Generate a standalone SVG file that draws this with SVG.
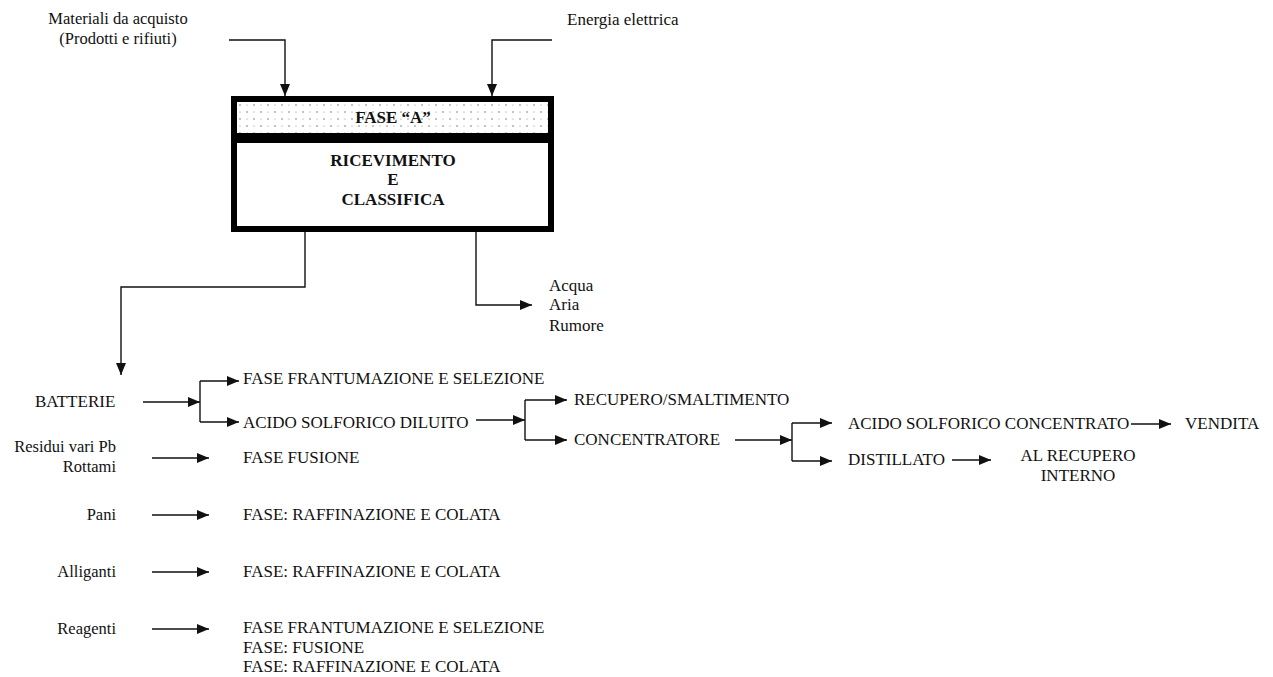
<svg xmlns="http://www.w3.org/2000/svg" width="1273" height="677" viewBox="0 0 1273 677" font-family="'Liberation Serif', 'DejaVu Serif', serif">
  <defs>
    <style>
      text { font-family: 'Liberation Serif', 'Times New Roman', Times, 'DejaVu Serif', serif; font-size: 17px; fill: #111; }
      .s { font-size: 16.5px; }
      .b { font-weight: bold; }
      .m { text-anchor: middle; }
      .r { text-anchor: end; }
      .ln { fill: none; stroke: #111; stroke-width: 1.4; }
      .ar { fill: none; stroke: #111; stroke-width: 1.4; marker-end: url(#head); }
    </style>
    <marker id="head" viewBox="0 0 12 10" refX="12" refY="5" markerWidth="12" markerHeight="10" markerUnits="userSpaceOnUse" orient="auto">
      <path d="M0,0 L12,5 L0,10 Z" fill="#111"/>
    </marker>
    <pattern id="dots" x="237" y="102" width="14" height="14" patternUnits="userSpaceOnUse">
      <circle cx="3" cy="3" r="0.7" fill="#555"/>
      <circle cx="10" cy="10" r="0.7" fill="#555"/>
      <circle cx="10" cy="3" r="0.6" fill="#888"/>
      <circle cx="3" cy="10" r="0.6" fill="#888"/>
    </pattern>
  </defs>
  <rect width="1273" height="677" fill="#fff"/>

  <!-- central phase box -->
  <g id="fase-a">
    <rect x="234" y="99" width="317" height="130" fill="#fff" stroke="#000" stroke-width="6"/>
    <rect x="237" y="102" width="311" height="31" fill="url(#dots)"/>
    <rect x="231" y="133" width="323" height="10" fill="#000"/>
    <text class="b m" x="393" y="123">FASE “A”</text>
    <text class="b m" x="393" y="166">RICEVIMENTO</text>
    <text class="b m" x="393" y="185">E</text>
    <text class="b m" x="393" y="205">CLASSIFICA</text>
  </g>

  <!-- inputs to the box -->
  <g id="input-materiali">
    <text class="s m" x="118" y="24">Materiali da acquisto</text>
    <text class="s m" x="118" y="44">(Prodotti e rifiuti)</text>
  </g>
  <g id="input-energia">
    <text x="567" y="25">Energia elettrica</text>
  </g>

  <!-- outputs -->
  <g id="emissioni">
    <text x="549" y="291">Acqua</text>
    <text x="549" y="310">Aria</text>
    <text x="549" y="331">Rumore</text>
  </g>

  <g id="batterie">
    <text x="35" y="407">BATTERIE</text>
  </g>
  <g id="batterie-out">
    <text x="243" y="384">FASE FRANTUMAZIONE E SELEZIONE</text>
    <text x="243" y="428">ACIDO SOLFORICO DILUITO</text>
  </g>
  <g id="acido-out">
    <text x="574" y="405">RECUPERO/SMALTIMENTO</text>
    <text x="574" y="445">CONCENTRATORE</text>
  </g>
  <g id="concentratore-out">
    <text x="848" y="429">ACIDO SOLFORICO CONCENTRATO</text>
    <text x="848" y="465">DISTILLATO</text>
  </g>
  <g id="vendita">
    <text x="1185" y="429">VENDITA</text>
  </g>
  <g id="recupero-interno">
    <text class="m" x="1078" y="461">AL RECUPERO</text>
    <text class="m" x="1078" y="481">INTERNO</text>
  </g>

  <g id="residui">
    <text class="s r" x="116" y="452">Residui vari Pb</text>
    <text class="s r" x="116" y="472">Rottami</text>
    <text x="243" y="463">FASE FUSIONE</text>
  </g>
  <g id="pani">
    <text class="s r" x="116" y="520">Pani</text>
    <text x="243" y="520">FASE: RAFFINAZIONE E COLATA</text>
  </g>
  <g id="alliganti">
    <text class="s r" x="116" y="577">Alliganti</text>
    <text x="243" y="577">FASE: RAFFINAZIONE E COLATA</text>
  </g>
  <g id="reagenti">
    <text class="s r" x="116" y="634">Reagenti</text>
    <text x="243" y="633">FASE FRANTUMAZIONE E SELEZIONE</text>
    <text x="243" y="653">FASE: FUSIONE</text>
    <text x="243" y="672">FASE: RAFFINAZIONE E COLATA</text>
  </g>

  <!-- connectors -->
  <g id="connectors">
    <path class="ar" d="M229,40 H285 V96"/>
    <path class="ar" d="M552,40 H492 V96"/>
    <path class="ar" d="M305,232 V287 H121 V375"/>
    <path class="ar" d="M476,232 V305 H532"/>

    <path class="ar" d="M143,402 H200"/>
    <path class="ln" d="M200,381 V422"/>
    <path class="ar" d="M200,381 H239"/>
    <path class="ar" d="M200,422 H239"/>

    <path class="ar" d="M476,420 H525"/>
    <path class="ln" d="M525,400 V440"/>
    <path class="ar" d="M525,400 H567"/>
    <path class="ar" d="M525,440 H567"/>

    <path class="ar" d="M735,440 H792"/>
    <path class="ln" d="M792,423 V461"/>
    <path class="ar" d="M792,423 H832"/>
    <path class="ar" d="M792,461 H832"/>

    <path class="ar" d="M1131,424 H1171"/>
    <path class="ar" d="M952,460 H991"/>

    <path class="ar" d="M152,458 H209"/>
    <path class="ar" d="M152,515 H209"/>
    <path class="ar" d="M152,572 H209"/>
    <path class="ar" d="M152,629 H209"/>
  </g>
</svg>
